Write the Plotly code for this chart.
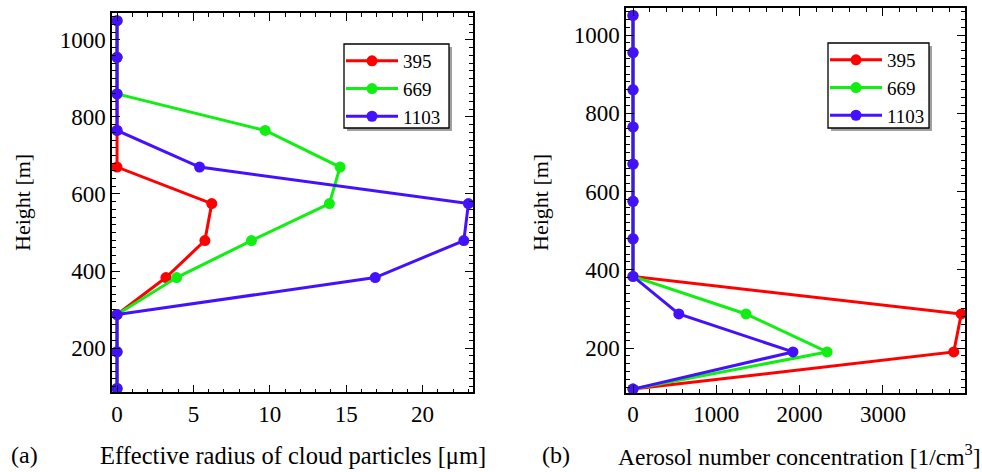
import plotly.graph_objects as go

heights = [95, 190, 287, 383, 479, 575, 670, 765, 860, 955, 1050]
series_names = ["395", "669", "1103"]
colors = ["#ff0000", "#11ee11", "#4411ff"]

# (a) Effective radius of cloud particles [um]
radius_395 = [0, 0, 0, 3.2, 5.75, 6.2, 0, 0, 0, 0, 0]
radius_669 = [0, 0, 0, 3.9, 8.8, 13.9, 14.6, 9.7, 0, 0, 0]
radius_1103 = [0, 0, 0, 16.9, 22.7, 23.0, 5.4, 0, 0, 0, 0]

# (b) Aerosol number concentration [1/cm3]
aerosol_395 = [0, 3850, 3940, 0, 0, 0, 0, 0, 0, 0, 0]
aerosol_669 = [0, 2330, 1356, 0, 0, 0, 0, 0, 0, 0, 0]
aerosol_1103 = [0, 1920, 550, 0, 0, 0, 0, 0, 0, 0, 0]

W, H = 982, 472
FONT = "Liberation Serif, Times New Roman, DejaVu Serif, serif"

fig = go.Figure()
for name, col, xa in zip(series_names, colors, [radius_395, radius_669, radius_1103]):
    fig.add_trace(go.Scatter(x=xa, y=heights, mode="lines+markers", name=name,
                             line=dict(color=col, width=3),
                             marker=dict(color=col, size=11),
                             xaxis="x", yaxis="y", legend="legend"))
for name, col, xa in zip(series_names, colors, [aerosol_395, aerosol_669, aerosol_1103]):
    fig.add_trace(go.Scatter(x=xa, y=heights, mode="lines+markers", name=name,
                             line=dict(color=col, width=3),
                             marker=dict(color=col, size=11),
                             xaxis="x2", yaxis="y2", legend="legend2"))

def px(x):
    return x / W

def py(y):
    return 1 - y / H

common = dict(showline=True, linecolor="black", linewidth=1.5, mirror="allticks",
              ticks="inside", ticklen=8, tickwidth=1.3, tickcolor="black",
              showgrid=False, zeroline=False,
              tickfont=dict(family=FONT, size=23, color="black"))

legend_common = dict(xanchor="left", yanchor="top", bgcolor="rgba(0,0,0,0)",
                     borderwidth=0, itemwidth=52,
                     font=dict(family=FONT, size=19, color="black"), tracegroupgap=0)

fig.update_layout(
    width=W, height=H,
    margin=dict(l=0, r=0, t=0, b=0),
    paper_bgcolor="white", plot_bgcolor="white",
    font=dict(family=FONT, color="black"),
    xaxis=dict(domain=[px(112), px(473)], range=[-0.33, 23.3], anchor="y",
               tickvals=[0, 5, 10, 15, 20],
               minor=dict(ticks="inside", ticklen=4, dtick=1, tickcolor="black", tickwidth=1.2),
               **common),
    yaxis=dict(domain=[py(392.3), py(13.4)], range=[85, 1069], anchor="x",
               tickvals=[200, 400, 600, 800, 1000],
               minor=dict(ticks="inside", ticklen=4, dtick=20, tick0=0, tickcolor="black", tickwidth=1.2),
               **common),
    xaxis2=dict(domain=[px(626), px(965)], range=[-84, 3985], anchor="y2",
                tickvals=[0, 1000, 2000, 3000],
                minor=dict(ticks="inside", ticklen=4, dtick=200, tickcolor="black", tickwidth=1.2),
                **common),
    yaxis2=dict(domain=[py(393), py(8)], range=[85, 1069], anchor="x2",
                tickvals=[200, 400, 600, 800, 1000],
                minor=dict(ticks="inside", ticklen=4, dtick=20, tick0=0, tickcolor="black", tickwidth=1.2),
                **common),
    legend=dict(x=px(341), y=py(42), **legend_common),
    legend2=dict(x=px(825), y=py(41), **legend_common),
    showlegend=True,
)

# legend frames with drop shadows
for (x0, y0, x1, y1) in [(344, 44, 449, 128), (828, 43, 929, 128)]:
    fig.add_shape(type="rect", xref="paper", yref="paper",
                  x0=px(x0 + 3), x1=px(x1 + 3), y0=py(y1 + 3), y1=py(y0 + 3),
                  fillcolor="#a0a0a0", line=dict(width=0), layer="above")
    fig.add_shape(type="rect", xref="paper", yref="paper",
                  x0=px(x0), x1=px(x1), y0=py(y1), y1=py(y0),
                  fillcolor="white", line=dict(color="black", width=1.3), layer="above")

annotations = [
    dict(text="(a)", x=px(24), y=py(455), size=24),
    dict(text="Effective radius of cloud particles [μm]", x=px(293), y=py(455), size=24.5),
    dict(text="(b)", x=px(556), y=py(455), size=24),
    dict(text="Aerosol number concentration [1/cm<sup>3</sup>]", x=px(799), y=py(455), size=23.5),
    dict(text="Height [m]", x=px(22), y=py(203), size=22, textangle=-90),
    dict(text="Height [m]", x=px(540), y=py(203), size=22, textangle=-90),
]
for a in annotations:
    size = a.pop("size")
    fig.add_annotation(xref="paper", yref="paper", showarrow=False,
                       xanchor="center", yanchor="middle",
                       font=dict(family=FONT, size=size, color="black"), **a)

fig.write_html("out.html")
